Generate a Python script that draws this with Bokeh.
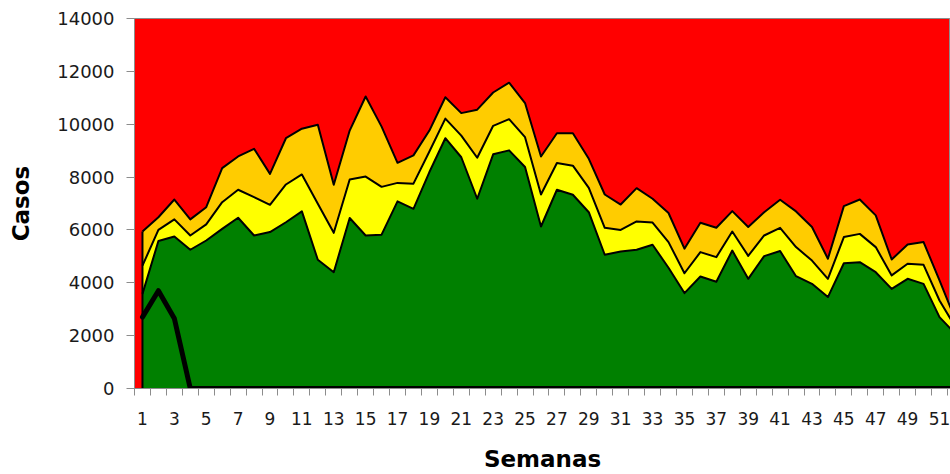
from bokeh.plotting import figure
from bokeh.models import Range1d, FixedTicker
from bokeh.embed import file_html
from bokeh.resources import INLINE

weeks = list(range(1, 53))

# cumulative upper limits of each channel zone (casos)
zona_exito = [3580, 5580, 5750, 5250, 5600, 6040, 6460, 5790, 5920, 6290,
              6700, 4870, 4400, 6450, 5790, 5820, 7080, 6800, 8190, 9470,
              8750, 7180, 8860, 9010, 8380, 6130, 7520, 7330, 6670, 5060,
              5180, 5250, 5440, 4570, 3610, 4240, 4040, 5220, 4150, 5010,
              5200, 4250, 3960, 3460, 4740, 4780, 4400, 3770, 4150, 3960,
              2700, 2070]
zona_seguridad = [4650, 6000, 6400, 5790, 6210, 7050, 7520, 7240, 6950, 7720,
                  8100, 6990, 5890, 7910, 8020, 7630, 7780, 7750, 8970, 10210,
                  9570, 8730, 9940, 10190, 9510, 7340, 8530, 8430, 7590, 6080,
                  6000, 6320, 6280, 5540, 4360, 5160, 4970, 5940, 5020, 5790,
                  6080, 5350, 4840, 4150, 5730, 5850, 5350, 4280, 4720, 4680,
                  3330, 2320]
zona_alerta = [5940, 6480, 7150, 6400, 6860, 8340, 8780, 9070, 8120, 9470,
               9830, 9980, 7710, 9760, 11050, 9910, 8540, 8820, 9760, 11020,
               10420, 10550, 11200, 11570, 10800, 8780, 9660, 9660, 8690, 7340,
               6960, 7580, 7180, 6640, 5290, 6270, 6080, 6710, 6110, 6670,
               7140, 6700, 6110, 4910, 6900, 7150, 6550, 4880, 5450, 5540,
               4090, 2600]
casos_actuales = [2700, 3700, 2650] + [0] * 49

y_ticks = [0, 2000, 4000, 6000, 8000, 10000, 12000, 14000]
x_label_ticks = [w for w in weeks if w % 2 == 1]
x_boundaries = [w - 0.5 for w in weeks] + [weeks[-1] + 0.5]

p = figure(width=950, height=474,
           x_range=Range1d(0.5, 51.69), y_range=Range1d(0, 14000),
           output_backend="svg", toolbar_location=None,
           min_border_left=134, min_border_right=0,
           min_border_top=18, min_border_bottom=86)
p.background_fill_color = "#FF0000"
p.border_fill_color = "white"
p.outline_line_color = "#8c8c8c"
p.outline_line_width = 1
p.grid.visible = False

zeros = [0] * len(weeks)
p.varea(x=weeks, y1=zeros, y2=zona_exito, fill_color="#008000")
p.varea(x=weeks, y1=zona_exito, y2=zona_seguridad, fill_color="#FFFF00")
p.varea(x=weeks, y1=zona_seguridad, y2=zona_alerta, fill_color="#FFCC00")

for s in (zona_exito, zona_seguridad, zona_alerta):
    p.line(weeks, s, line_color="black", line_width=2, line_join="round")
p.segment(x0=[weeks[0]], y0=[0], x1=[weeks[0]], y1=[zona_alerta[0]],
          line_color="black", line_width=2)

p.line(weeks, casos_actuales, line_color="black", line_width=5,
       line_join="round", line_cap="round")

# axes
yax = p.yaxis[0]
yax.ticker = FixedTicker(ticks=y_ticks)
yax.axis_line_color = "#8c8c8c"
yax.major_tick_line_color = "#8c8c8c"
yax.major_tick_out = 8
yax.major_tick_in = 0
yax.minor_tick_line_color = None
yax.major_label_text_font = "DejaVu Sans"
yax.major_label_text_font_size = "18px"
yax.major_label_text_color = "#1a1a1a"
yax.major_label_standoff = 12
yax.axis_label = "Casos"
yax.axis_label_text_font = "DejaVu Sans"
yax.axis_label_text_font_style = "bold"
yax.axis_label_text_font_size = "23px"
yax.axis_label_text_color = "black"
yax.axis_label_standoff = 20

xax = p.xaxis[0]
xax.ticker = FixedTicker(ticks=x_label_ticks, minor_ticks=x_boundaries)
xax.axis_line_color = "#8c8c8c"
xax.major_tick_line_color = None
xax.major_tick_out = 0
xax.major_tick_in = 0
xax.minor_tick_line_color = "#8c8c8c"
xax.minor_tick_out = 7
xax.minor_tick_in = 0
xax.major_label_text_font = "DejaVu Sans"
xax.major_label_text_font_size = "17px"
xax.major_label_text_color = "#1a1a1a"
xax.major_label_standoff = 16
xax.axis_label = "Semanas"
xax.axis_label_text_font = "DejaVu Sans"
xax.axis_label_text_font_style = "bold"
xax.axis_label_text_font_size = "23px"
xax.axis_label_text_color = "black"
xax.axis_label_standoff = 18

open("out.html", "w").write(file_html(p, INLINE))
